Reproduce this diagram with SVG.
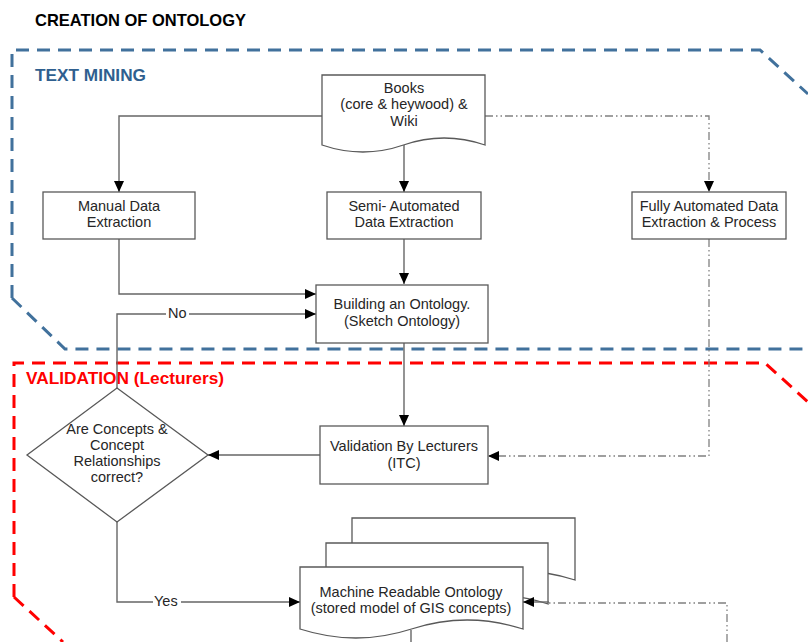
<svg xmlns="http://www.w3.org/2000/svg" width="808" height="642" viewBox="0 0 808 642">
  <style>
    .box { fill: #ffffff; stroke: #595959; stroke-width: 1.3; }
    .lbl { font-family: "Liberation Sans", Arial, sans-serif; font-size: 14.5px; fill: #262626; text-anchor: middle; }
    .edge { fill: none; stroke: #666666; stroke-width: 1.4; }
    .dd { fill: none; stroke: #808080; stroke-width: 1.3; stroke-dasharray: 8 3 1.5 3 1.5 3; }
    .head { font-family: "Liberation Sans", Arial, sans-serif; font-weight: bold; font-size: 17px; }
    .elbl { font-family: "Liberation Sans", Arial, sans-serif; font-size: 14.5px; fill: #262626; }
  </style>
  <defs>
    <marker id="arrow" markerUnits="userSpaceOnUse" markerWidth="12" markerHeight="10" refX="11" refY="5" orient="auto">
      <path d="M0,0 L11,5 L0,10 Z" fill="#000000"/>
    </marker>
  </defs>

  <rect width="808" height="642" fill="#ffffff"/>

  <!-- section frames -->
  <g id="frames">
    <path d="M12,298 V50 H760 L808,94 M12,298 L65,349 H808" fill="none" stroke="#41719c" stroke-width="3" stroke-dasharray="13 8"/>
    <path d="M14,597 V363 H765 L808,402 M14,597 L63,642" fill="none" stroke="#ff0000" stroke-width="3" stroke-dasharray="13 8"/>
  </g>

  <!-- headings -->
  <g id="headings">
    <text x="35" y="26" class="head" fill="#000000" textLength="211" lengthAdjust="spacingAndGlyphs">CREATION OF ONTOLOGY</text>
    <text x="35" y="81" class="head" fill="#2f5f8f" textLength="111" lengthAdjust="spacingAndGlyphs">TEXT MINING</text>
    <text x="26" y="384" class="head" fill="#ff0000" textLength="198" lengthAdjust="spacingAndGlyphs">VALIDATION (Lecturers)</text>
  </g>

  <!-- connectors -->
  <g id="connectors">
    <path class="edge" d="M322,116 H119 V192" marker-end="url(#arrow)"/>
    <path class="edge" d="M404,145 V192" marker-end="url(#arrow)"/>
    <path class="dd" d="M485,116 H709 V192" marker-end="url(#arrow)"/>
    <path class="edge" d="M404,239 V284" marker-end="url(#arrow)"/>
    <path class="edge" d="M119,239 V294 H316" marker-end="url(#arrow)"/>
    <path class="edge" d="M117,388 V314 H316" marker-end="url(#arrow)"/>
    <path class="edge" d="M404,343 V426" marker-end="url(#arrow)"/>
    <path class="edge" d="M320,455 H208" marker-end="url(#arrow)"/>
    <path class="dd" d="M709,239 V456 H488" marker-end="url(#arrow)"/>
    <path class="edge" d="M117,522 V602 H300" marker-end="url(#arrow)"/>
    <path class="edge" d="M411,630 V642"/>
    <rect x="166" y="306" width="23" height="15" fill="#ffffff"/>
    <text x="168" y="318" class="elbl">No</text>
    <rect x="153" y="594" width="28" height="15" fill="#ffffff"/>
    <text x="154" y="606" class="elbl">Yes</text>
  </g>

  <!-- nodes -->
  <g id="books">
    <path class="box" d="M322,75 H485 V145 Q444,131 403.5,145 T322,145 Z"/>
    <text x="404" y="93" class="lbl">Books</text>
    <text x="404" y="109" class="lbl">(core &amp; heywood) &amp;</text>
    <text x="404" y="126" class="lbl">Wiki</text>
  </g>

  <g id="manual">
    <rect class="box" x="43" y="192" width="152" height="47"/>
    <text x="119" y="211" class="lbl">Manual Data</text>
    <text x="119" y="227" class="lbl">Extraction</text>
  </g>

  <g id="semi">
    <rect class="box" x="327" y="192" width="154" height="47"/>
    <text x="404" y="211" class="lbl">Semi- Automated</text>
    <text x="404" y="227" class="lbl">Data Extraction</text>
  </g>

  <g id="fully">
    <rect class="box" x="632" y="192" width="154" height="47"/>
    <text x="709" y="211" class="lbl">Fully Automated Data</text>
    <text x="709" y="227" class="lbl">Extraction &amp; Process</text>
  </g>

  <g id="building">
    <rect class="box" x="316" y="285" width="172" height="58"/>
    <text x="402" y="309" class="lbl">Building an Ontology.</text>
    <text x="402" y="326" class="lbl">(Sketch Ontology)</text>
  </g>

  <g id="validation">
    <rect class="box" x="320" y="426" width="168" height="58"/>
    <text x="404" y="451" class="lbl">Validation By Lecturers</text>
    <text x="404" y="468" class="lbl">(ITC)</text>
  </g>

  <g id="decision">
    <path class="box" d="M117,388 L208,455 L117,522 L27,455 Z"/>
    <text x="117" y="434" class="lbl">Are Concepts &amp;</text>
    <text x="117" y="450" class="lbl">Concept</text>
    <text x="117" y="466" class="lbl">Relationships</text>
    <text x="117" y="482" class="lbl">correct?</text>
  </g>

  <g id="ontology">
    <path class="box" d="M352,518 H575 V580 Q519,562 463.5,580 T352,580 Z"/>
    <path class="box" d="M326,543 H548 V604 Q492.5,586 437,604 T326,604 Z"/>
    <path class="box" d="M300,567 H523 V629 Q467,611 411.5,629 T300,629 Z"/>
    <text x="411" y="597" class="lbl">Machine Readable Ontology</text>
    <text x="411" y="613" class="lbl">(stored model of GIS concepts)</text>
  </g>

  <!-- return link into the stored ontology -->
  <g id="store-link">
    <path class="dd" d="M727,642 V603 H549"/>
    <path class="edge" d="M549,602 H523" stroke="none" marker-end="url(#arrow)"/>
  </g>
</svg>
